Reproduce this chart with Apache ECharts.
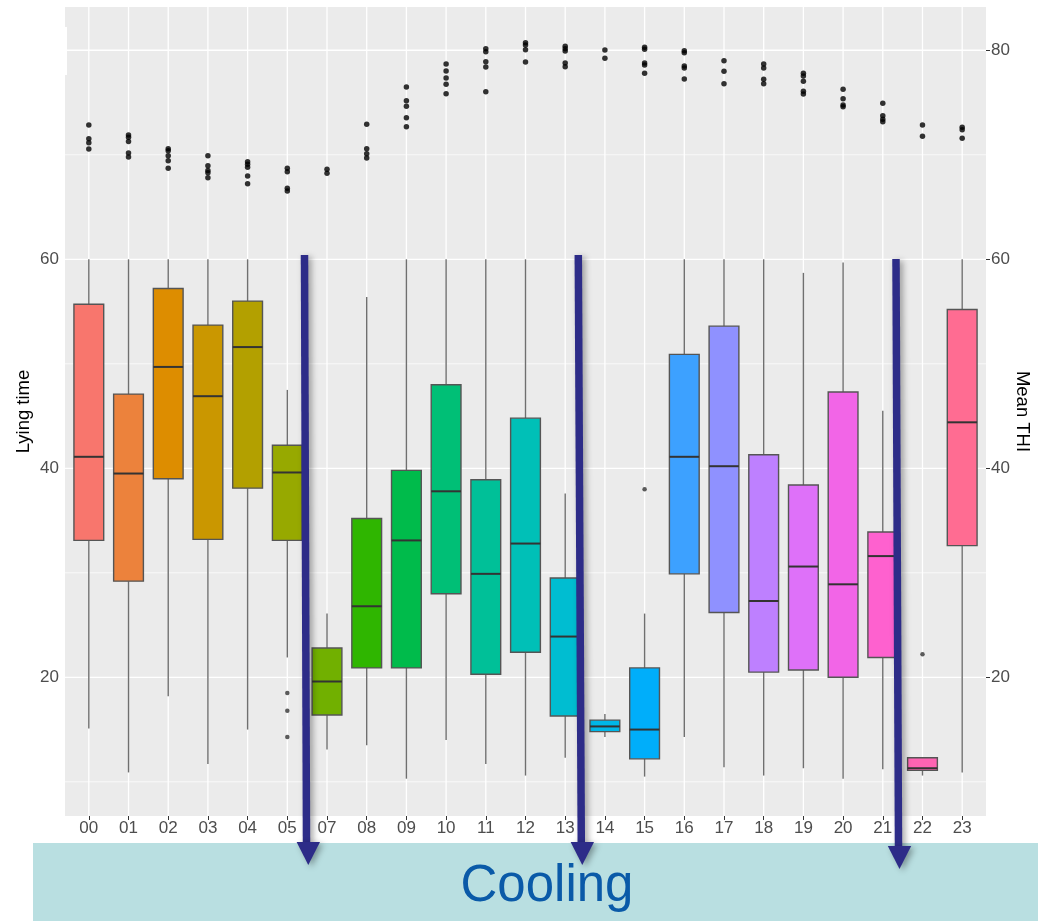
<!DOCTYPE html>
<html>
<head>
<meta charset="utf-8">
<title>Lying time and Mean THI by hour</title>
<script src="https://cdn.jsdelivr.net/npm/echarts@6/dist/echarts.min.js"></script>
<style>
  html, body { margin: 0; padding: 0; background: #ffffff; }
  #chart { width: 1038px; height: 921px; }
</style>
</head>
<body>
<div id="chart"></div>
<script>
// Hours of the day (06 has no records)
const hours = ['00','01','02','03','04','05','07','08','09','10','11','12',
               '13','14','15','16','17','18','19','20','21','22','23'];

// Lying time box statistics per hour
const whiskerHigh = [60, 60, 60, 60, 60, 47.5, 26.1, 56.4, 60, 60, 60, 60, 37.6, 16.5, 26.1, 60, 60, 60, 58.7, 59.7, 45.5, 12.3, 60];
const upperQuartile = [55.7, 47.1, 57.2, 53.7, 56.0, 42.2, 22.8, 35.2, 39.8, 48.0, 38.9, 44.8, 29.5, 15.9, 20.9, 50.9, 53.6, 41.3, 38.4, 47.3, 33.9, 12.3, 55.2];
const medianValue = [41.1, 39.5, 49.7, 46.9, 51.6, 39.6, 19.6, 26.8, 33.1, 37.8, 29.9, 32.8, 23.9, 15.3, 15.0, 41.1, 40.2, 27.3, 30.6, 28.9, 31.6, 11.3, 44.4];
const lowerQuartile = [33.1, 29.2, 39.0, 33.2, 38.1, 33.1, 16.4, 20.9, 20.9, 28.0, 20.3, 22.4, 16.3, 14.8, 12.2, 29.9, 26.2, 20.5, 20.7, 20.0, 21.9, 11.1, 32.6];
const whiskerLow = [15.1, 10.9, 18.2, 11.7, 15.0, 21.9, 13.1, 13.5, 10.3, 14.0, 11.7, 10.6, 12.3, 14.3, 10.5, 14.3, 11.4, 10.6, 11.3, 10.3, 11.2, 10.6, 10.9];

// Lying time outliers: hour and value
const outlierHour = ['05', '05', '05', '15', '22'];
const outlierValue = [18.5, 16.8, 14.3, 38.0, 22.2];

// Mean THI readings per hour
const meanTHI = [
  [72.85, 71.54, 71.16, 70.56],
  [71.89, 71.67, 71.26, 70.17, 69.79],
  [70.58, 70.39, 69.91, 69.44, 68.71],
  [69.91, 68.96, 68.5, 68.29, 67.81],
  [69.34, 69.09, 68.8, 67.97, 67.23],
  [68.71, 68.38, 66.79, 66.54],
  [68.61, 68.23],
  [72.92, 70.58, 70.1, 69.69],
  [76.49, 75.18, 74.64, 73.55, 72.69],
  [78.69, 78.02, 77.35, 76.75, 75.85],
  [80.15, 79.87, 78.91, 78.4, 76.04],
  [80.73, 80.51, 80.06, 78.88],
  [80.38, 80.15, 79.93, 78.78, 78.43],
  [80.03, 79.23],
  [80.29, 80.1, 78.78, 78.59, 77.8],
  [79.96, 79.77, 78.5, 78.31, 77.25],
  [79.0, 77.99, 76.8],
  [78.69, 78.31, 77.22, 76.8],
  [77.8, 77.54, 77.03, 76.08, 75.82],
  [76.27, 75.37, 74.77, 74.6],
  [74.93, 73.74, 73.4, 73.17],
  [72.85, 71.77],
  [72.63, 72.4, 71.58]
];

// Axis ticks
const leftTicks = [20, 40, 60];
const rightTicks = [20, 40, 60, 80];
const majorGrid = [20, 40, 60, 80];
const minorGrid = [10, 30, 50, 70];

// ggplot-like hue palette: HCL (L=65, C=100) converted to sRGB
function hcl(h, c, l) {
  const Xn = 95.047, Yn = 100.0, Zn = 108.883;
  const hr = h * Math.PI / 180;
  const u = c * Math.cos(hr), v = c * Math.sin(hr);
  const Y = Yn * (l > 8 ? Math.pow((l + 16) / 116, 3) : l / 903.3);
  const den = Xn + 15 * Yn + 3 * Zn;
  const un = 4 * Xn / den, vn = 9 * Yn / den;
  const up = u / (13 * l) + un, vp = v / (13 * l) + vn;
  const X = 9 * Y * up / (4 * vp);
  const Z = -X / 3 - 5 * Y + 3 * Y / vp;
  const x = X / 100, y = Y / 100, z = Z / 100;
  const lin = [
    3.240479 * x - 1.537150 * y - 0.498535 * z,
    -0.969256 * x + 1.875992 * y + 0.041556 * z,
    0.055648 * x - 0.204043 * y + 1.057311 * z
  ];
  const toHex = (cc) => {
    let g = cc <= 0.0031308 ? 12.92 * cc : 1.055 * Math.pow(cc, 1 / 2.4) - 0.055;
    g = Math.max(0, Math.min(1, g));
    return Math.round(g * 255).toString(16).padStart(2, '0');
  };
  return '#' + lin.map(toHex).join('');
}
const boxColors = hours.map((_, i) => hcl(15 + i * 360 / hours.length, 100, 65));

const Y_MIN = 6.73, Y_MAX = 84.14;

const boxData = hours.map((_, i) => [i, whiskerLow[i], lowerQuartile[i], medianValue[i], upperQuartile[i], whiskerHigh[i]]);
const outlierData = outlierHour.map((h, k) => [hours.indexOf(h), outlierValue[k]]);
const thiData = [];
meanTHI.forEach((vals, i) => vals.forEach(v => thiData.push([i, v])));

const chart = echarts.init(document.getElementById('chart'), null, { renderer: 'canvas' });

function renderVGrid(params, api) {
  const cs = params.coordSys;
  const x = api.coord([api.value(0), 50])[0];
  return { type: 'line', silent: true,
    shape: { x1: x, y1: cs.y, x2: x, y2: cs.y + cs.height },
    style: { stroke: '#ffffff', lineWidth: 1.3 } };
}
function makeHGrid(width) {
  return function (params, api) {
    const cs = params.coordSys;
    const y = api.coord([0, api.value(1)])[1];
    return { type: 'line', silent: true,
      shape: { x1: cs.x, y1: y, x2: cs.x + cs.width, y2: y },
      style: { stroke: '#ffffff', lineWidth: width } };
  };
}
function renderBox(params, api) {
  const i = api.value(0);
  const lo = api.coord([i, api.value(1)]);
  const q1 = api.coord([i, api.value(2)]);
  const md = api.coord([i, api.value(3)]);
  const q3 = api.coord([i, api.value(4)]);
  const hi = api.coord([i, api.value(5)]);
  const w = api.size([0.75, 0])[0];
  const x = lo[0];
  const fill = boxColors[params.dataIndex];
  return { type: 'group', children: [
    { type: 'line', shape: { x1: x, y1: hi[1], x2: x, y2: q3[1] }, style: { stroke: '#6f6f6f', lineWidth: 1.4 } },
    { type: 'line', shape: { x1: x, y1: q1[1], x2: x, y2: lo[1] }, style: { stroke: '#6f6f6f', lineWidth: 1.4 } },
    { type: 'rect', shape: { x: x - w / 2, y: q3[1], width: w, height: q1[1] - q3[1] },
      style: { fill: fill, stroke: '#555555', lineWidth: 1.4 } },
    { type: 'line', shape: { x1: x - w / 2, y1: md[1], x2: x + w / 2, y2: md[1] },
      style: { stroke: '#333333', lineWidth: 2 } }
  ] };
}

// Annotation arrows over the plot
const arrowColor = '#2d2c88';
function arrow(xTop, yTop, xShaftEnd, yHead, xTip, yTip) {
  const shadow = { shadowBlur: 6, shadowOffsetX: 3, shadowOffsetY: 2, shadowColor: 'rgba(0,0,0,0.35)' };
  return [
    { type: 'line', z: 50, shape: { x1: xTop, y1: yTop, x2: xShaftEnd, y2: yHead + 2 },
      style: Object.assign({ stroke: arrowColor, lineWidth: 7.5 }, shadow) },
    { type: 'polygon', z: 51, shape: { points: [[xTip - 11.7, yHead], [xTip + 11.7, yHead], [xTip, yTip]] },
      style: Object.assign({ fill: arrowColor }, shadow) }
  ];
}

const option = {
  animation: false,
  backgroundColor: '#ffffff',
  grid: { left: 65, right: 52, top: 7, bottom: 105, show: true, backgroundColor: '#ebebeb', borderWidth: 0,
    containLabel: false, outerBoundsMode: 'none' },
  xAxis: {
    type: 'value', min: -0.6, max: 22.6,
    axisLine: { show: false },
    splitLine: { show: false },
    axisTick: { show: true, customValues: hours.map((_, i) => i), length: 4, lineStyle: { color: '#333333' } },
    axisLabel: { customValues: hours.map((_, i) => i), formatter: v => hours[Math.round(v)],
      fontSize: 17, color: '#4d4d4d', margin: 4, fontFamily: 'Liberation Sans' }
  },
  yAxis: [
    { type: 'value', min: Y_MIN, max: Y_MAX, position: 'left',
      name: 'Lying time', nameLocation: 'middle', nameRotate: 90, nameGap: 32, nameMoveOverlap: false,
      nameTextStyle: { fontSize: 18.5, color: '#000000', fontFamily: 'Liberation Sans' },
      axisLine: { show: false }, splitLine: { show: false },
      axisTick: { show: true, customValues: leftTicks, length: 4, lineStyle: { color: '#333333' } },
      axisLabel: { customValues: leftTicks, fontSize: 17, color: '#4d4d4d', margin: 6, fontFamily: 'Liberation Sans' } },
    { type: 'value', min: Y_MIN, max: Y_MAX, position: 'right',
      name: 'Mean THI', nameLocation: 'middle', nameRotate: -90, nameGap: 27, nameMoveOverlap: false,
      nameTextStyle: { fontSize: 18.5, color: '#000000', fontFamily: 'Liberation Sans' },
      axisLine: { show: false }, splitLine: { show: false },
      axisTick: { show: true, customValues: rightTicks, length: 4, lineStyle: { color: '#333333' } },
      axisLabel: { customValues: rightTicks, fontSize: 17, color: '#4d4d4d', margin: 5, fontFamily: 'Liberation Sans' } }
  ],
  series: [
    { type: 'custom', name: 'minor grid', z: 1, silent: true, clip: true,
      encode: { x: 0, y: 1 }, renderItem: makeHGrid(0.7), data: minorGrid.map(v => [0, v]) },
    { type: 'custom', name: 'major grid', z: 1, silent: true, clip: true,
      encode: { x: 0, y: 1 }, renderItem: makeHGrid(1.3), data: majorGrid.map(v => [0, v]) },
    { type: 'custom', name: 'hour grid', z: 1, silent: true, clip: true,
      encode: { x: 0, y: 1 }, renderItem: renderVGrid, data: hours.map((_, i) => [i, 50]) },
    { type: 'custom', name: 'Lying time', z: 3,
      encode: { x: 0, y: [1, 2, 3, 4, 5] }, renderItem: renderBox, data: boxData },
    { type: 'scatter', name: 'Lying time outliers', z: 4, symbolSize: 4.5,
      itemStyle: { color: '#333333' }, data: outlierData },
    { type: 'scatter', name: 'Mean THI', yAxisIndex: 1, z: 4, symbolSize: 5.5,
      itemStyle: { color: '#000000' }, data: thiData }
  ],
  graphic: [
    { type: 'rect', z: 40, shape: { x: 60, y: 27, width: 7, height: 48 }, style: { fill: '#ffffff' } },
    { type: 'rect', z: 40, shape: { x: 33, y: 843, width: 1005, height: 78 }, style: { fill: '#b9dfe1' } },
    { type: 'text', z: 41, style: { text: 'Cooling', x: 547, y: 887, align: 'center', verticalAlign: 'middle',
      font: '51px "Liberation Sans"', fill: '#0a5aa8' } }
  ]
    .concat(arrow(304.5, 255, 306.5, 842, 308.3, 865))
    .concat(arrow(578.3, 255, 581.3, 842, 582.3, 865))
    .concat(arrow(896, 259, 898.5, 846, 899.5, 869))
};

chart.setOption(option);
</script>
</body>
</html>
